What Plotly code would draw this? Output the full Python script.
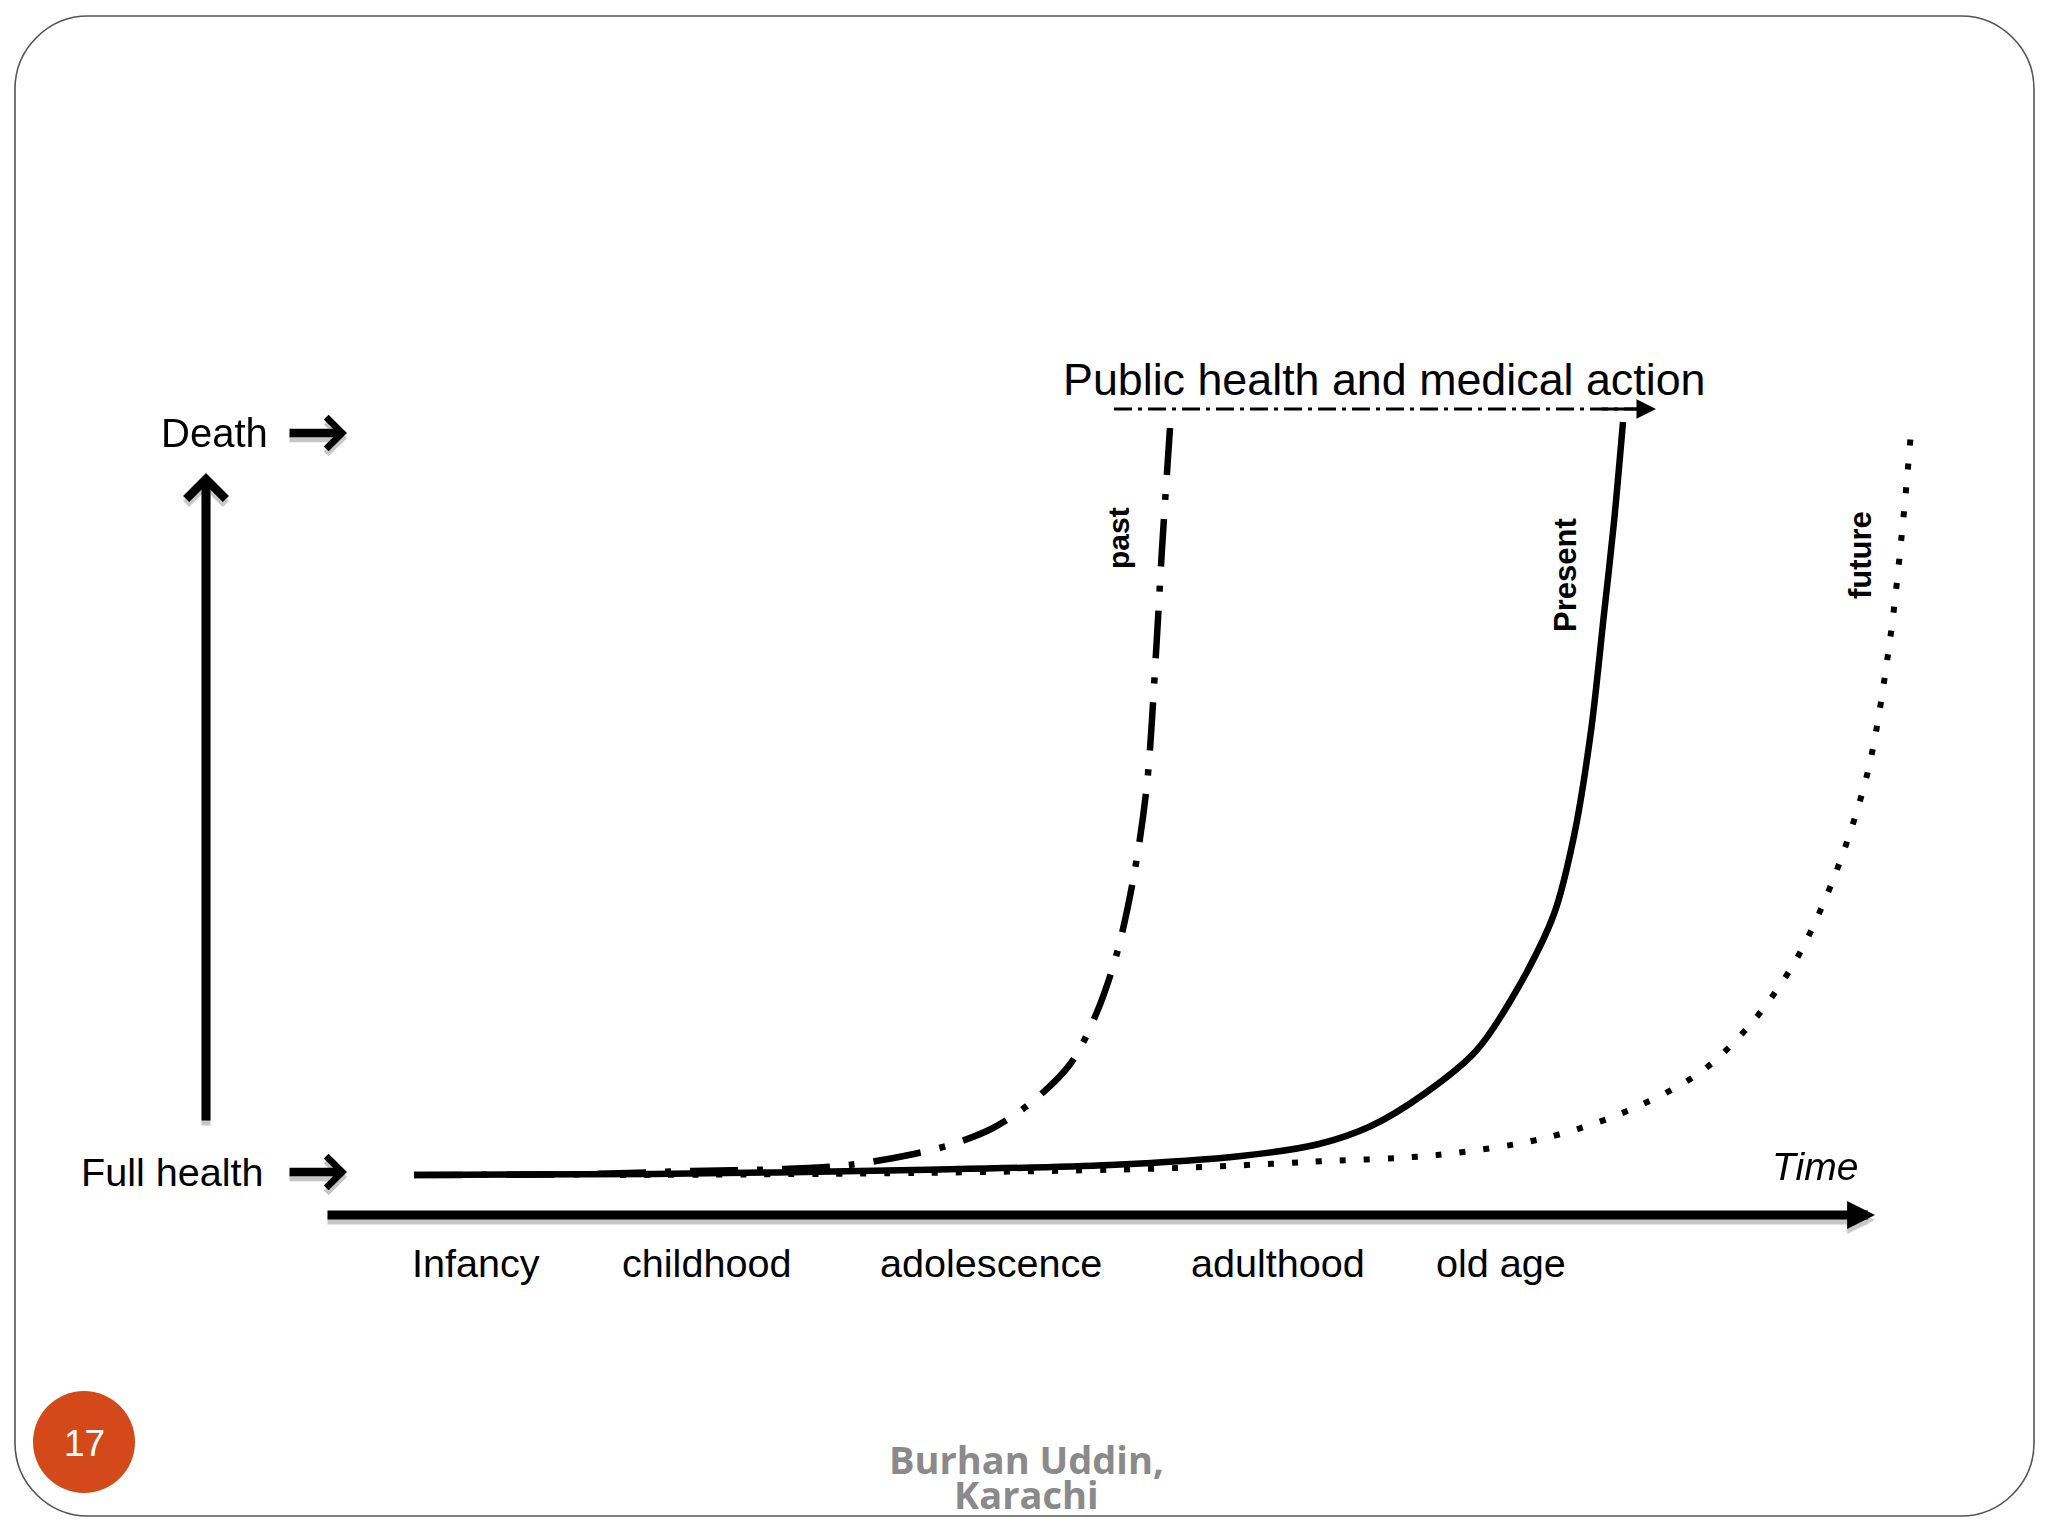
import plotly.graph_objects as go

past_x = [414, 588, 692, 784, 849, 914, 953, 993, 1032, 1071, 1097, 1117, 1134, 1147, 1156, 1162, 1170]
past_y = [1175, 1174, 1171, 1169, 1165, 1154, 1144, 1128, 1102, 1063, 1012, 953, 875, 784, 653, 549, 428]
present_x = [414, 653, 914, 1110, 1241, 1319, 1371, 1424, 1476, 1515, 1554, 1574, 1591, 1604, 1614, 1623]
present_y = [1175, 1174, 1170, 1165, 1156, 1144, 1126, 1094, 1051, 993, 914, 836, 731, 614, 522, 422]
future_x = [620, 914, 1176, 1306, 1437, 1541, 1620, 1698, 1750, 1796, 1835, 1868, 1890, 1903, 1911]
future_y = [1175, 1173, 1168, 1162, 1155, 1139, 1114, 1074, 1025, 960, 875, 771, 640, 522, 432]

labels = ["Infancy", "childhood", "adolescence", "adulthood", "old age"]
label_x = [476, 706, 991, 1278, 1501]

fig = go.Figure()
fig.add_trace(go.Scatter(x=past_x, y=past_y, mode="lines", line=dict(color="black", width=6.5, dash="48px 19px 6px 19px", shape="spline", smoothing=0.9), hoverinfo="skip"))
fig.add_trace(go.Scatter(x=present_x, y=present_y, mode="lines", line=dict(color="black", width=6.5, shape="spline", smoothing=0.9), hoverinfo="skip"))
fig.add_trace(go.Scatter(x=future_x, y=future_y, mode="lines", line=dict(color="black", width=6, dash="6px 18px", shape="spline", smoothing=0.9), hoverinfo="skip"))
fig.add_trace(go.Scatter(x=[1114, 1640], y=[409, 409], mode="lines", line=dict(color="black", width=3, dash="18px 6px 4px 6px"), hoverinfo="skip"))

def arrow(x0, y0, x1, y1, width, size=0.9, head=4, shadow=True):
    if shadow:
        fig.add_annotation(x=x1, y=y1 + 5, ax=x0, ay=y0 + 5, xref="x", yref="y", axref="x", ayref="y", text="", showarrow=True,
                           arrowhead=head, arrowsize=size, arrowwidth=width, arrowcolor="rgba(0,0,0,0.22)")
    fig.add_annotation(x=x1, y=y1, ax=x0, ay=y0, xref="x", yref="y", axref="x", ayref="y", text="", showarrow=True,
                       arrowhead=head, arrowsize=size, arrowwidth=width, arrowcolor="black")

arrow(206, 1122, 206, 473, 9, 0.85)
arrow(288, 433, 347, 433, 8.5, 0.72)
arrow(288, 1172, 347, 1172, 8.5, 0.72)
arrow(326, 1215, 1875, 1215, 9, 0.62, head=2)
arrow(1600, 409, 1656, 409, 3, 1.3, head=2, shadow=False)

def text(x, y, s, size, color="black", family="Liberation Sans", angle=0, **kw):
    fig.add_annotation(x=x, y=y, text=s, showarrow=False, textangle=angle, font=dict(family=family, size=size, color=color), **kw)

text(214, 433, "Death", 40)
text(172, 1172, "Full health", 39.6)
text(1384, 379, "Public health and medical action", 44.8)
text(1815, 1166, "<i>Time</i>", 39)
for lx, s in zip(label_x, labels):
    text(lx, 1263, s, 39.6)
text(1118, 538, "<b>past</b>", 30, angle=-90)
text(1565, 575, "<b>Present</b>", 31, angle=-90)
text(1860, 555, "<b>future</b>", 31, angle=-90)
text(84, 1443, "17", 37, color="white")
text(1026, 1459, "<b>Burhan Uddin,</b>", 38, color="#8a8a8a", family="Open Sans")
text(1026, 1494, "<b>Karachi</b>", 38, color="#8a8a8a", family="Open Sans")

fig.add_shape(type="path", xref="x", yref="y", line=dict(color="#555555", width=1.6), fillcolor="white", layer="below",
              path="M 88 16 L 1961 16 C 2001 16 2034 49 2034 89 L 2034 1443 C 2034 1483 2001 1516 1961 1516 L 88 1516 C 48 1516 15 1483 15 1443 L 15 89 C 15 49 48 16 88 16 Z")
fig.add_shape(type="circle", xref="x", yref="y", x0=33, y0=1391, x1=135, y1=1493, fillcolor="#d4491a", line=dict(width=0), layer="below")

fig.update_layout(width=2048, height=1536, margin=dict(l=0, r=0, t=0, b=0), showlegend=False,
                  paper_bgcolor="white", plot_bgcolor="white",
                  xaxis=dict(range=[0, 2048], visible=False, fixedrange=True),
                  yaxis=dict(range=[1536, 0], visible=False, fixedrange=True))
fig.write_html("out.html", post_script="document.body.style.margin='0';", config={"displayModeBar": False})
